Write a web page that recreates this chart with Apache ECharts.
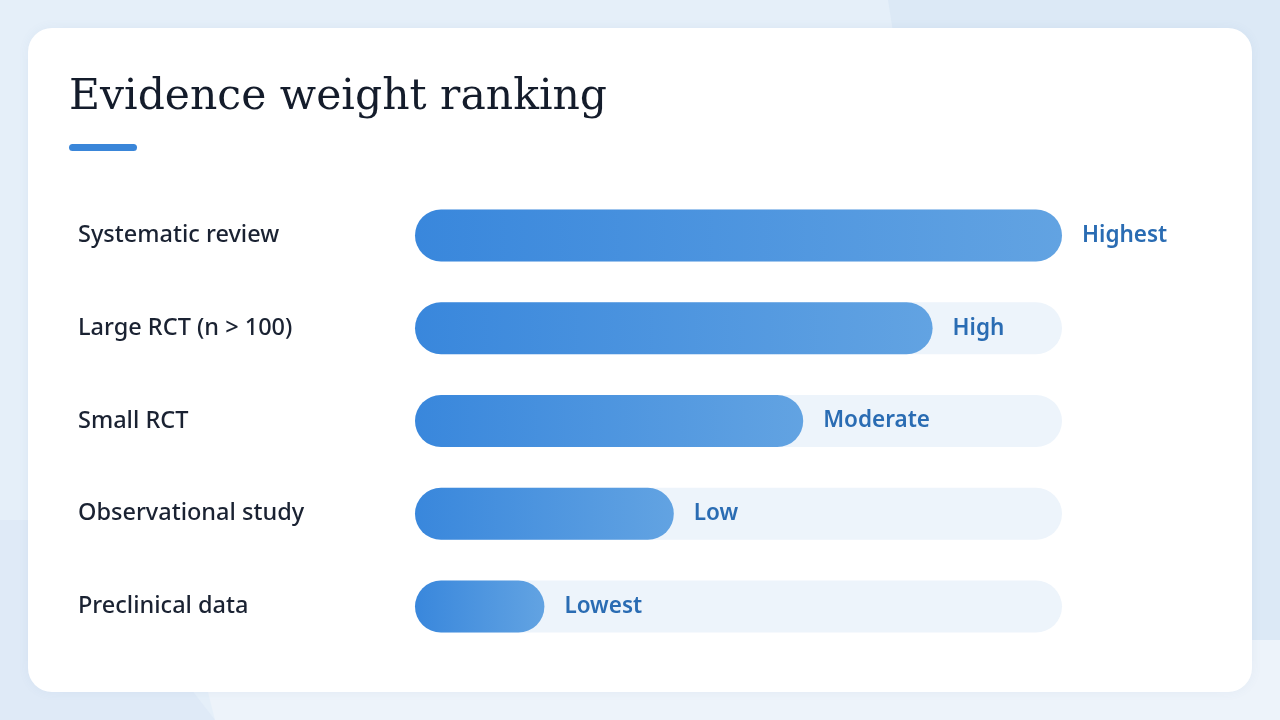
<!DOCTYPE html>
<html>
<head>
<meta charset="utf-8">
<script src="https://cdn.jsdelivr.net/npm/echarts@6/dist/echarts.min.js"></script>
<style>
html,body{margin:0;padding:0;width:1280px;height:720px;overflow:hidden;background:#e5eff9;}
#chart{width:1280px;height:720px;}
</style>
</head>
<body>
<div id="chart"></div>
<script>
const categories = ["Systematic review", "Large RCT (n > 100)", "Small RCT", "Observational study", "Preclinical data"];
const weights = [100, 80, 60, 40, 20];
const levelLabels = ["Highest", "High", "Moderate", "Low", "Lowest"];
const titleText = "Evidence weight ranking";

const chart = echarts.init(document.getElementById('chart'));
chart.setOption({
  animation: false,
  graphic: [
    { type: 'rect', z: -10, shape: { x: 0, y: 0, width: 1280, height: 720 }, style: { fill: '#e5eff9' } },
    { type: 'polygon', z: -9, shape: { points: [[888,0],[1280,0],[1280,720],[1000,720]] }, style: { fill: '#dce9f6' } },
    { type: 'polygon', z: -9, shape: { points: [[195,640],[1280,640],[1280,720],[215,720]] }, style: { fill: '#edf3fa' } },
    { type: 'polygon', z: -9, shape: { points: [[0,520],[60,520],[215,720],[0,720]] }, style: { fill: '#dfeaf7' } },
    { type: 'rect', z: -8, shape: { x: 28, y: 28, width: 1224, height: 664, r: 24 }, style: { fill: '#ffffff', shadowBlur: 12, shadowColor: 'rgba(60,100,160,0.06)' } },
    { type: 'text', z: 5, left: 69, top: 76, style: { text: titleText, font: '400 42.5px "DejaVu Serif", "Liberation Serif", serif', fill: '#141c2b' } },
    { type: 'rect', z: 5, shape: { x: 69, y: 144, width: 68, height: 7, r: 3.5 }, style: { fill: '#3a86d9' } }
  ],
  grid: { left: 415, right: 218, top: 189, bottom: 67 },
  xAxis: { type: 'value', min: 0, max: 100, show: false },
  yAxis: {
    type: 'category', data: categories, inverse: true,
    axisLine: { show: false }, axisTick: { show: false }, splitLine: { show: false },
    axisLabel: { align: 'left', margin: 337, padding: [5, 0, 0, 0], fontSize: 23.5, color: '#1a2232', fontFamily: '"Noto Sans", Lato, sans-serif', fontWeight: 500 }
  },
  series: [{
    type: 'bar',
    data: weights,
    barWidth: 52,
    showBackground: true,
    backgroundStyle: { color: '#edf4fb', borderRadius: 26 },
    itemStyle: {
      borderRadius: 26,
      color: new echarts.graphic.LinearGradient(0, 0, 1, 0, [
        { offset: 0, color: '#3987dc' },
        { offset: 1, color: '#62a3e2' }
      ])
    },
    label: {
      show: true, position: 'right', distance: 20, padding: [5, 0, 0, 0],
      formatter: p => levelLabels[p.dataIndex],
      fontSize: 22.5, fontWeight: 600, color: '#2a6cb3',
      fontFamily: '"Noto Sans", Lato, sans-serif'
    }
  }]
});
</script>
</body>
</html>
